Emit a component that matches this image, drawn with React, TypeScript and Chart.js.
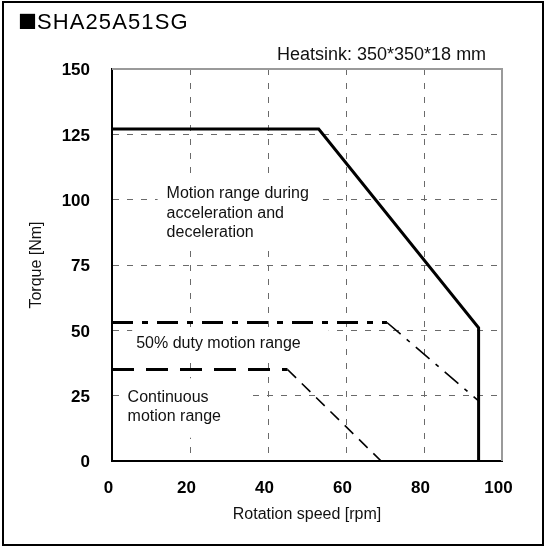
import React, { useEffect, useRef } from "react";
import { Chart, registerables } from "chart.js";
Chart.register(...registerables);

// ---- data ----
const speedMin = 0;
const speedMax = 100;
const speedStep = 20;
const torqueMin = 0;
const torqueMax = 150;
const torqueStep = 25;

// Maximum torque (acceleration / deceleration) curve
const maxSpeed = [0, 53, 94, 94];
const maxTorque = [127, 127, 51, 0];
// 50% duty curve
const dutySpeed = [0, 70.5, 94];
const dutyTorque = [53, 53, 23];
// Continuous curve
const contSpeed = [0, 45, 69];
const contTorque = [35, 35, 0];

const titleMark = "■";
const chartTitle = "SHA25A51SG";
const heatsinkNote = "Heatsink: 350*350*18 mm";
const xTitle = "Rotation speed [rpm]";
const yTitle = "Torque [Nm]";

const regionTexts = [
  ["Motion range during", "acceleration and", "deceleration"],
  ["50% duty motion range"],
  ["Continuous", "motion range"],
];
const regionSpeed = [14, 6.2, 4];
const regionTorque = [102.2, 45.1, 24.4];

// ---- styles ----
const regionPad = [
  [9, 12, 8, 8],
  [4, 28, 8, 8],
  [8, 30, 11, 13],
];
const textFont = "16px 'Liberation Sans', Arial, sans-serif";
const lineStep = 19.5;

const pts = (xs: number[], ys: number[], from: number, to: number) =>
  xs.slice(from, to).map((x, i) => ({ x, y: ys[from + i] }));

const decorPlugin = {
  id: "decor",
  beforeDatasetsDraw(chart: any) {
    const { ctx, chartArea, scales } = chart;
    const xs = scales.x;
    const ys = scales.y;
    ctx.save();
    // top and right frame
    ctx.strokeStyle = "#9a9a9a";
    ctx.lineWidth = 2;
    ctx.beginPath();
    ctx.moveTo(chartArea.left, chartArea.top);
    ctx.lineTo(chartArea.right, chartArea.top);
    ctx.lineTo(chartArea.right, chartArea.bottom);
    ctx.stroke();
    // region labels with white backgrounds
    ctx.font = textFont;
    ctx.textBaseline = "middle";
    ctx.textAlign = "left";
    regionTexts.forEach((lines, i) => {
      const ax = xs.getPixelForValue(regionSpeed[i]);
      const ay = ys.getPixelForValue(regionTorque[i]);
      const w = Math.max(...lines.map((l) => ctx.measureText(l).width));
      const [pl, pr, pt, pb] = regionPad[i];
      const top = ay - 8 - pt;
      const bottom = ay + (lines.length - 1) * lineStep + 8 + pb;
      ctx.fillStyle = "#ffffff";
      ctx.fillRect(ax - pl, top, w + pl + pr, bottom - top);
      ctx.fillStyle = "#111111";
      lines.forEach((l, j) => ctx.fillText(l, ax, ay + j * lineStep));
    });
    ctx.restore();
  },
  afterDraw(chart: any) {
    const { ctx } = chart;
    ctx.save();
    ctx.strokeStyle = "#000";
    ctx.lineWidth = 2;
    ctx.strokeRect(3, 2, 540, 543);
    ctx.fillStyle = "#000";
    ctx.textBaseline = "alphabetic";
    ctx.textAlign = "left";
    ctx.font = "19px 'Noto Sans CJK JP', sans-serif";
    ctx.fillText(titleMark, 18, 29);
    ctx.font = "22px 'Liberation Sans', Arial, sans-serif";
    (ctx as any).letterSpacing = "1.1px";
    ctx.fillText(chartTitle, 37, 28.5);
    (ctx as any).letterSpacing = "0px";
    ctx.font = "18px 'Liberation Sans', Arial, sans-serif";
    ctx.textAlign = "left";
    ctx.textBaseline = "middle";
    ctx.fillStyle = "#111";
    ctx.fillText(heatsinkNote, 277, 55);
    ctx.restore();
  },
};

export default function App() {
  const ref = useRef<HTMLCanvasElement>(null);
  useEffect(() => {
    if (!ref.current) return;
    const thick = 3;
    const thin = 1.6;
    const chart = new Chart(ref.current, {
      type: "line",
      data: {
        datasets: [
          {
            label: "Max",
            data: pts(maxSpeed, maxTorque, 0, maxSpeed.length),
            borderColor: "#000",
            borderWidth: thick,
            borderJoinStyle: "miter",
          },
          {
            label: "Duty",
            data: pts(dutySpeed, dutyTorque, 0, 2),
            borderColor: "#000",
            borderWidth: thick,
            borderDash: [21, 9, 6, 9],
          },
          {
            label: "Duty slope",
            data: pts(dutySpeed, dutyTorque, 1, 3),
            borderColor: "#000",
            borderWidth: thin,
            borderDash: [18, 8, 4, 8],
          },
          {
            label: "Cont",
            data: pts(contSpeed, contTorque, 0, 2),
            borderColor: "#000",
            borderWidth: thick,
            borderDash: [22, 12],
          },
          {
            label: "Cont slope",
            data: pts(contSpeed, contTorque, 1, 3),
            borderColor: "#000",
            borderWidth: thin,
            borderDash: [12, 8],
          },
        ],
      },
      options: {
        animation: false,
        responsive: false,
        devicePixelRatio: 1,
        layout: { padding: { top: 69, right: 45, bottom: 0, left: 0 } },
        elements: { point: { radius: 0, hoverRadius: 0 }, line: { tension: 0, fill: false } },
        plugins: { legend: { display: false }, tooltip: { enabled: false } },
        events: [],
        scales: {
          x: {
            type: "linear",
            min: speedMin,
            max: speedMax,
            afterFit: (s: any) => {
              s.height = 89;
            },
            ticks: {
              stepSize: speedStep,
              padding: 17,
              labelOffset: -3.5,
              color: "#000",
              font: { family: "'Liberation Sans', Arial, sans-serif", size: 17, weight: "bold" },
              maxRotation: 0,
            },
            grid: {
              drawTicks: false,
              lineWidth: 1,
              color: (c: any) =>
                c.tick && (c.tick.value === speedMin || c.tick.value === speedMax) ? "rgba(0,0,0,0)" : "#6a6a6a",
            },
            border: { display: true, color: "#000", width: 2, dash: [6, 8] },
            title: {
              display: true,
              text: xTitle,
              color: "#111",
              font: { family: "'Liberation Sans', Arial, sans-serif", size: 16 },
              padding: { top: 0, bottom: 26 },
            },
          },
          y: {
            type: "linear",
            min: torqueMin,
            max: torqueMax,
            afterFit: (s: any) => {
              s.width = 112;
            },
            ticks: {
              stepSize: torqueStep,
              padding: 22,
              labelOffset: 1.5,
              color: "#000",
              font: { family: "'Liberation Sans', Arial, sans-serif", size: 17, weight: "bold" },
            },
            grid: {
              drawTicks: false,
              lineWidth: 1,
              color: (c: any) =>
                c.tick && (c.tick.value === torqueMin || c.tick.value === torqueMax) ? "rgba(0,0,0,0)" : "#6a6a6a",
            },
            border: { display: true, color: "#000", width: 2, dash: [6, 8] },
            title: {
              display: true,
              text: yTitle,
              color: "#111",
              font: { family: "'Liberation Sans', Arial, sans-serif", size: 16 },
              padding: { top: 27, bottom: 0 },
            },
          },
        },
      },
      plugins: [decorPlugin],
    });
    return () => chart.destroy();
  }, []);
  return (
    <div style={{ position: "absolute", left: 0, top: 0, width: 547, height: 550, background: "#fff" }}>
      <canvas ref={ref} width={547} height={550} style={{ display: "block", width: 547, height: 550 }} />
    </div>
  );
}
